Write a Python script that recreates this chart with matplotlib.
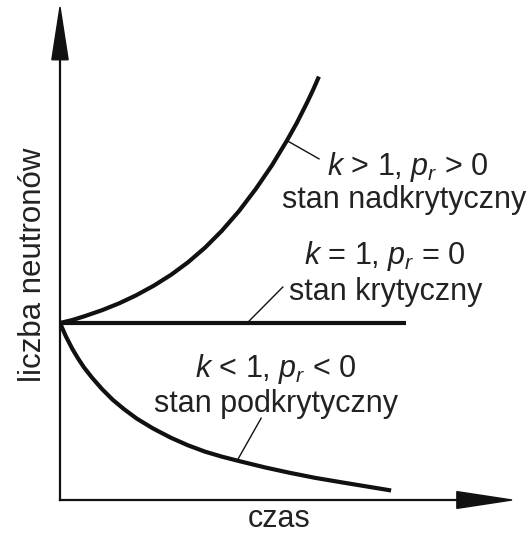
import matplotlib
matplotlib.use("Agg")
import matplotlib.pyplot as plt
from matplotlib.patches import Polygon

plt.rcParams['font.family'] = ['Liberation Sans', 'DejaVu Sans']
plt.rcParams['mathtext.fontset'] = 'custom'
plt.rcParams['mathtext.rm'] = 'Liberation Sans'
plt.rcParams['mathtext.it'] = 'Liberation Sans:italic'

# czas (umowne jednostki) i liczba neutronow dla trzech stanow
t_nad = [0.0, 0.27, 0.55, 0.93, 1.31, 1.68, 2.08, 2.46, 2.83, 3.21, 3.58, 3.96,
         4.34, 4.69, 5.02, 5.24, 5.46, 5.60, 5.71]
n_nad = [3.59, 3.65, 3.73, 3.85, 3.99, 4.15, 4.35, 4.57, 4.82, 5.12, 5.46, 5.86,
         6.32, 6.79, 7.29, 7.65, 8.05, 8.32, 8.55]

t_kr = [0.0, 7.65]
n_kr = [3.59, 3.59]

t_pod = [0.0, 0.13, 0.27, 0.40, 0.53, 0.71, 0.93, 1.17, 1.42, 1.70, 2.06, 2.46,
         2.83, 3.21, 3.58, 3.96, 4.54, 5.09, 5.64, 6.22, 6.75, 7.28]
n_pod = [3.59, 3.32, 3.07, 2.87, 2.69, 2.48, 2.25, 2.03, 1.84, 1.65, 1.45, 1.26,
         1.11, 0.98, 0.88, 0.79, 0.66, 0.55, 0.45, 0.36, 0.28, 0.20]

opisy = [
    ("$k$ > 1, $p_r$ > 0", "stan nadkrytyczny"),
    ("$k$ = 1, $p_r$ = 0", "stan krytyczny"),
    ("$k$ < 1, $p_r$ < 0", "stan podkrytyczny"),
]
opis_xy = [(7.70, 6.75, 7.62, 6.09), (7.19, 4.95, 7.21, 4.22), (4.78, 2.66, 4.77, 1.95)]
# odnosniki od opisu do krzywej
odnosniki = [((5.02, 7.29), (5.73, 6.92)),
             ((4.14, 3.59), (4.93, 4.32)),
             ((3.92, 0.80), (4.45, 1.66))]

fig = plt.figure(figsize=(5.28, 5.35), dpi=100)
ax = fig.add_axes([60 / 528, 35 / 535, 452 / 528, 493 / 535])
ax.set_xlim(0, 10)
ax.set_ylim(0, 10)
ax.axis('off')

kol = '#111111'
ax.plot(t_nad, n_nad, color=kol, lw=3.0, solid_joinstyle='round')
ax.plot(t_kr, n_kr, color=kol, lw=3.0, solid_capstyle='butt')
ax.plot(t_pod, n_pod, color=kol, lw=3.0, solid_joinstyle='round')

for (a, b) in odnosniki:
    ax.plot([a[0], b[0]], [a[1], b[1]], color=kol, lw=1.0)

# osie ze strzalkami
ax.plot([0, 0], [0, 0.95], color=kol, lw=1.6, transform=ax.transAxes, clip_on=False)
ax.plot([0, 0.9], [0, 0], color=kol, lw=1.6, transform=ax.transAxes, clip_on=False)
ax.add_patch(Polygon([[-0.018, 0.893], [0.018, 0.893], [0, 1.0]], closed=True,
                     color=kol, transform=ax.transAxes, clip_on=False))
ax.add_patch(Polygon([[0.878, -0.017], [0.878, 0.017], [1.0, 0]], closed=True,
                     color=kol, transform=ax.transAxes, clip_on=False))

tk = '#222222'
for (g, d), (x1, y1, x2, y2) in zip(opisy, opis_xy):
    ax.text(x1, y1, g, fontsize=22, ha='center', va='center', color=tk)
    ax.text(x2, y2, d, fontsize=22, ha='center', va='center', color=tk)

ax.text(4.85, -0.38, "czas", fontsize=22, ha='center', va='center', color=tk, clip_on=False)
ax.text(-0.6, 4.77, "liczba neutronów", fontsize=22.5, ha='center', va='center',
        rotation=90, color=tk, clip_on=False)

fig.savefig("out.png", dpi=100, facecolor='white')
